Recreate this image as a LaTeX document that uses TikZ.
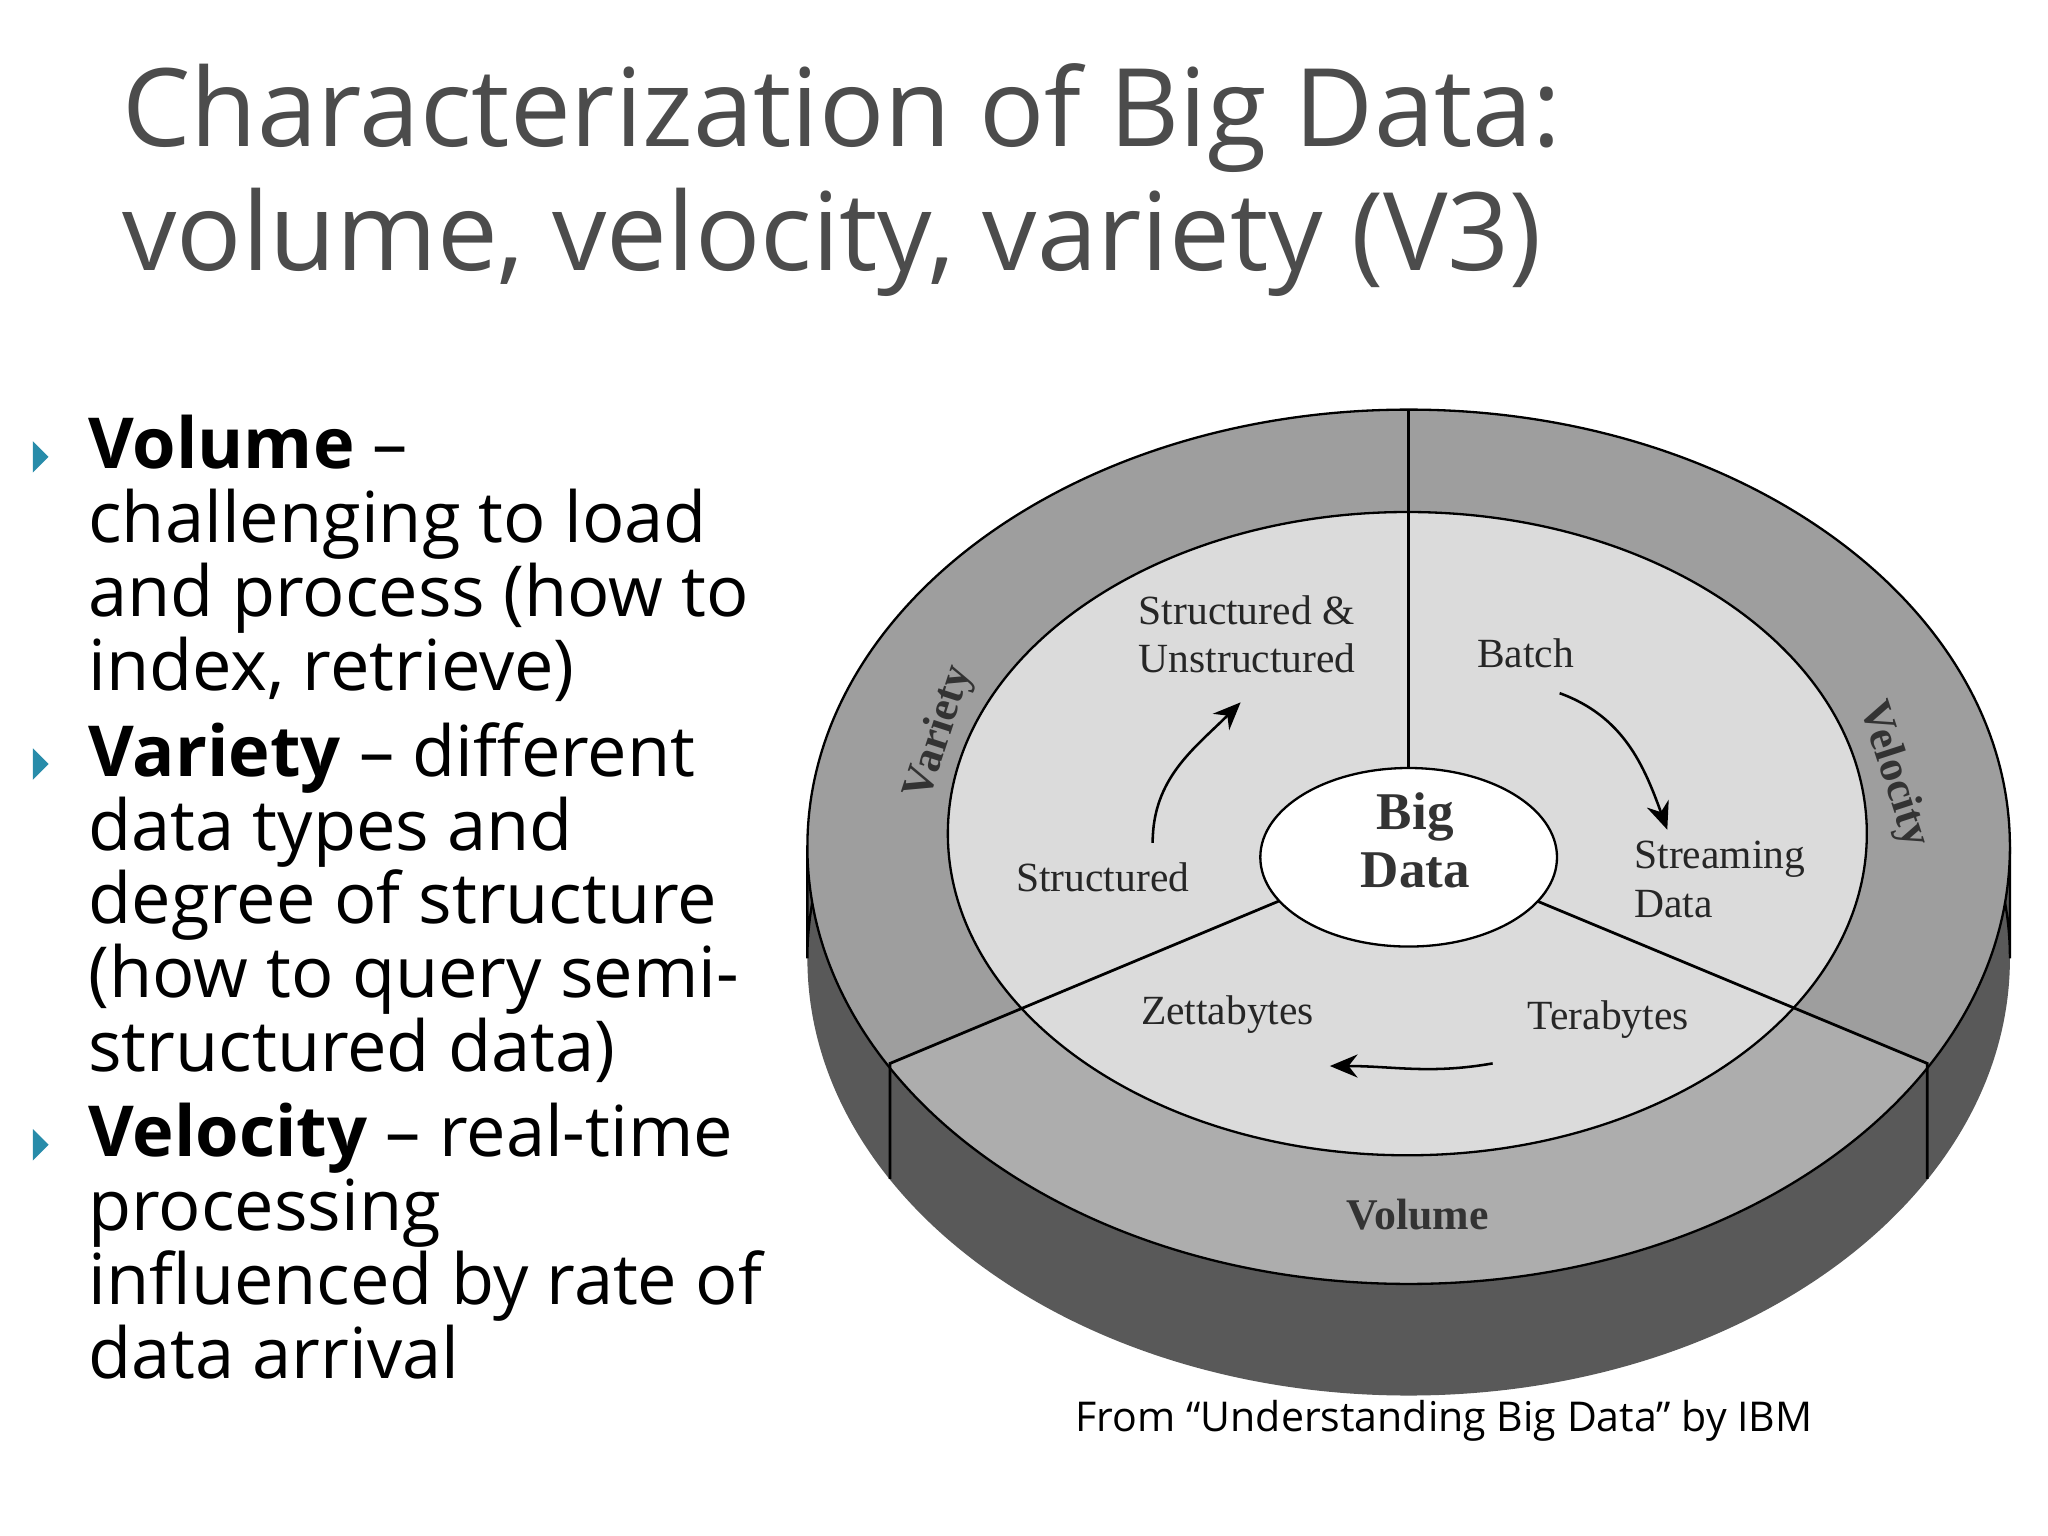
\documentclass[tikz,border=0pt]{standalone}
\usepackage{fontspec}
\setmainfont{Liberation Serif}
\newfontfamily\osans{Open Sans}
\usetikzlibrary{arrows.meta}
\definecolor{ringgray}{gray}{0.62}
\definecolor{volgray}{gray}{0.68}
\definecolor{innergray}{gray}{0.86}
\definecolor{sidegray}{gray}{0.35}
\definecolor{titlegray}{gray}{0.3}
\definecolor{bullet}{RGB}{40,140,170}
\tikzset{
 lbl/.style={font=\fontsize{18}{21}\selectfont, text=black!85, align=left},
 ring/.style={font=\bfseries\fontsize{19}{22}\selectfont, text=black!80},
 body/.style={font=\osans\fontsize{30.5}{32}\selectfont, anchor=north west, align=left, inner sep=0},
 tit/.style={font=\osans\fontsize{47}{54}\selectfont, anchor=north west, align=left, inner sep=0},
 arr/.style={-{Stealth[length=12pt,width=10pt]}, line width=1.1pt},
 bul/.style={fill=bullet, draw=none}
}
\begin{document}
\begin{tikzpicture}[x=0.02cm,y=-0.02cm]
\useasboundingbox (0,0) rectangle (1560,1170);
\fill[white] (0,0) rectangle (1560,1170);
% title
\node[tit, text=titlegray] (title) at (93,48) {Characterization of Big Data:\\volume, velocity, variety (V3)};
% bullets
\foreach \y in {348,582,872} \fill[bul] (25,\y-12) -- (37,\y) -- (25,\y+12) -- cycle;
\node[body] (b1) at (67,316) {\textbf{Volume} –\\challenging to load\\and process (how to\\index, retrieve)};
\node[body] (b2) at (67,550) {\textbf{Variety} – different\\data types and\\degree of structure\\(how to query semi-\\structured data)};
\node[body] (b3) at (67,840) {\textbf{Velocity} – real-time\\processing\\influenced by rate of\\data arrival};
% cylinder side
\fill[sidegray] (1073,730) ellipse [x radius=458, y radius=333];
\fill[sidegray] (615,645) rectangle (1531,730);
\draw[line width=1pt] (615,645) -- (615,730) arc[start angle=180,end angle=360,x radius=458,y radius=333] -- (1531,645);
% top face
\fill[ringgray] (1073,645) ellipse [x radius=458, y radius=333];
\begin{scope}
\clip (1073,645) ellipse [x radius=458, y radius=333];
\fill[volgray] (1073,645) -- (600,843) -- (600,1000) -- (1550,1000) -- (1546,843) -- cycle;
\end{scope}
\draw[line width=1pt] (1073,645) ellipse [x radius=458, y radius=333];
\fill[innergray,draw=black,line width=1pt] (1072,635) ellipse [x radius=350, y radius=245];
\draw[line width=1.4pt] (1073,312) -- (1073,585);
\draw[line width=1.2pt] (975,686) -- (678,810) -- (678,898);
\draw[line width=1.2pt] (1170,686) -- (1468,810) -- (1468,898);
\fill[white,draw=black,line width=1pt] (1073,653) ellipse [x radius=113, y radius=68];
\node[font=\bfseries\fontsize{23}{25}\selectfont, text=black!80, align=center] (bd) at (1078,640) {Big\\Data};
% labels
\node[lbl] (su) at (950,483) {Structured \&\\Unstructured};
\node[lbl] (st) at (840,668) {Structured};
\node[lbl] (ba) at (1162,498) {Batch};
\node[lbl] (sd) at (1310,670) {Streaming\\Data};
\node[lbl] (ze) at (935,773) {Zettabytes};
\node[lbl] (te) at (1225,777) {Terabytes};
\draw[arr] (878,642) to[out=90,in=225] (945,535);
\draw[arr] (1188,528) to[out=-20,in=110] (1270,632);
\draw[arr] (1137,810) to[out=190,in=0] (1013,812);
\node[ring, rotate=72] (va) at (716,558) {Variety};
\node[ring, rotate=-72] (ve) at (1442,590) {Velocity};
\node[ring] (vo) at (1080,925) {Volume};
\node[font=\osans\fontsize{17.8}{19}\selectfont] (cap) at (1100,1082) {From “Understanding Big Data” by IBM};
\end{tikzpicture}
\end{document}
